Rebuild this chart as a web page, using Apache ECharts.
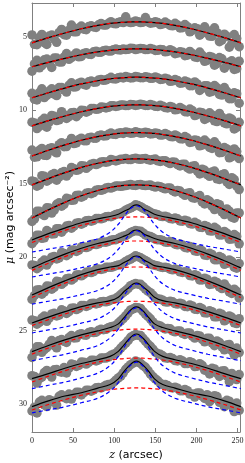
<!DOCTYPE html>
<html><head><meta charset="utf-8">
<script src="https://cdn.jsdelivr.net/npm/echarts@6/dist/echarts.min.js"></script>
<style>html,body{margin:0;padding:0;background:#fff}#c{width:245px;height:463px}</style>
</head><body><div id="c"></div>
<script>
// sample positions (arcsec)
const zPts = [0,6,12,18,24,30,36,42,48,54,60,66,72,78,84,90,96,102,108,114,120,126,132,138,144,150,156,162,168,174,180,186,192,198,204,210,216,222,228,234,240,246,252];
const zPtsB = [3,9,15,21,27,33,39,45,51,57,63,69,75,81,87,93,99,105,111,117,123,129,135,141,147,153,159,165,171,177,183,189,195,201,207,213,219,225,231,237,243,249];
const zLine = [0,20,40,60,80,95,105,112,118,123,127,131,136,142,149,159,174,194,214,234,254];
const xTicks = [0,50,100,150,200,250];
const yTicks = [5,10,15,20,25,30];

// measured points (mag arcsec^-2, offset profiles), set A at zPts
const pts1 = [4.87,5.54,4.84,5.52,4.88,5.38,4.50,4.89,4.20,4.66,4.27,4.52,4.25,4.36,4.09,4.20,3.97,4.12,3.97,3.64,4.03,3.92,4.03,3.69,4.07,3.97,4.17,4.00,4.23,4.08,4.40,4.17,4.66,4.39,4.89,4.32,4.95,4.39,5.33,4.82,5.71,4.85,5.67];
const pts2 = [7.34,6.60,6.96,6.52,7.09,6.45,6.72,6.14,6.42,6.10,6.34,6.08,6.20,5.98,6.05,5.91,5.97,5.83,5.90,5.87,5.78,5.87,5.79,5.87,5.80,5.93,5.86,6.02,5.88,6.15,6.02,6.29,6.00,6.37,6.04,6.67,6.34,6.93,6.41,7.14,6.73,7.22,6.66];
const pts3 = [8.85,9.30,8.54,8.99,8.54,9.00,8.46,8.76,8.13,8.40,8.09,8.29,8.01,8.08,7.90,7.94,7.76,7.87,7.76,7.71,7.80,7.70,7.78,7.72,7.83,7.73,7.90,7.83,8.03,7.91,8.16,8.01,8.33,8.07,8.65,8.34,8.77,8.32,8.92,8.46,9.21,8.81,9.52];
const pts4 = [10.81,11.25,10.70,11.15,10.35,10.70,10.10,10.56,10.17,10.44,10.00,10.13,9.88,9.94,9.78,9.84,9.70,9.74,9.64,9.68,9.61,9.67,9.59,9.67,9.61,9.73,9.66,9.82,9.74,9.97,9.81,10.10,9.92,10.36,10.14,10.63,10.17,10.72,10.22,10.86,10.52,11.27,10.82];
const pts5 = [12.71,13.17,12.60,13.08,12.56,12.90,12.21,12.47,11.92,12.23,11.90,12.08,11.84,11.90,11.68,11.74,11.55,11.65,11.53,11.48,11.56,11.47,11.56,11.49,11.61,11.54,11.69,11.58,11.78,11.68,11.94,11.79,12.19,12.02,12.42,12.03,12.53,12.15,12.89,12.54,13.24,12.63,13.29];
const pts6 = [14.81,15.17,14.45,14.83,14.39,14.76,14.24,14.48,13.89,14.09,13.78,13.95,13.67,13.70,13.52,13.54,13.35,13.45,13.33,13.28,13.36,13.26,13.34,13.29,13.40,13.32,13.48,13.43,13.63,13.54,13.79,13.68,14.00,13.78,14.34,14.09,14.50,14.14,14.71,14.33,15.05,14.72,15.40];
const pts7 = [17.57,16.88,17.07,16.64,17.00,16.40,16.53,15.99,16.13,15.80,15.92,15.65,15.68,15.44,15.45,15.30,15.30,15.15,15.18,15.13,15.06,15.12,15.06,15.13,15.09,15.23,15.20,15.35,15.29,15.56,15.50,15.79,15.62,15.99,15.81,16.38,16.20,16.76,16.43,17.10,16.87,17.35,16.99];
const pts8 = [19.08,18.50,18.72,18.19,18.42,18.06,18.30,17.88,18.03,17.69,17.76,17.52,17.55,17.37,17.39,17.25,17.25,17.09,17.01,16.80,16.65,16.44,16.56,16.75,16.95,17.07,17.21,17.22,17.37,17.34,17.53,17.49,17.71,17.63,17.96,17.85,18.21,17.97,18.49,18.25,18.78,18.46,19.09];
const pts9 = [20.53,20.78,20.34,20.54,20.00,20.12,19.68,19.90,19.53,19.61,19.31,19.35,19.14,19.14,18.98,18.98,18.84,18.81,18.64,18.54,18.32,18.19,18.23,18.49,18.59,18.78,18.81,18.97,18.94,19.12,19.11,19.34,19.28,19.57,19.47,19.86,19.74,20.17,19.96,20.49,20.19,20.68,20.43];
const pts10 = [22.88,22.23,22.52,21.97,22.18,21.64,21.85,21.47,21.56,21.22,21.27,21.03,21.05,20.83,20.84,20.69,20.69,20.58,20.51,20.29,20.13,19.91,20.04,20.23,20.44,20.56,20.67,20.68,20.82,20.80,21.00,20.99,21.25,21.19,21.55,21.43,21.86,21.64,22.03,21.82,22.37,22.18,22.78];
const pts11 = [24.28,24.56,24.14,24.37,23.86,24.00,23.58,23.83,23.47,23.57,23.29,23.35,23.15,23.18,23.03,23.04,22.91,22.82,22.54,22.27,21.94,21.80,21.85,22.17,22.42,22.77,22.86,23.04,23.00,23.16,23.13,23.35,23.26,23.54,23.42,23.79,23.65,24.06,23.82,24.33,24.00,24.47,24.19];
const pts12 = [26.83,26.10,26.48,26.15,25.68,26.17,25.61,25.80,25.34,25.49,25.21,25.31,25.08,25.11,24.91,24.91,24.73,24.65,24.33,24.00,23.59,23.43,23.49,23.87,24.20,24.60,24.68,24.89,24.88,25.08,25.02,25.26,25.16,25.51,25.36,25.76,25.52,26.03,25.80,26.31,25.94,26.66,26.49];
const pts13 = [28.07,28.57,28.17,27.71,28.16,27.65,27.83,27.88,27.28,27.44,27.14,27.28,27.02,27.06,26.87,26.87,26.68,26.54,26.19,25.86,25.45,25.27,25.34,25.72,26.07,26.47,26.61,26.85,26.83,27.04,26.98,27.24,27.11,27.45,27.25,27.69,27.95,27.61,28.12,27.73,28.48,28.23,27.99];
const pts14 = [30.47,30.60,29.74,30.17,29.81,30.07,29.37,29.63,29.66,29.20,29.38,29.05,29.12,28.89,28.90,28.71,28.67,28.37,28.09,27.63,27.32,27.07,27.23,27.50,27.95,28.29,28.59,28.67,28.87,28.85,29.09,29.00,29.32,29.52,29.24,29.62,29.84,29.43,29.88,30.18,29.80,30.51,30.43];

// measured points, set B at zPtsB
const ptsB1 = [5.51,5.05,5.40,4.95,5.15,4.70,4.86,4.55,4.66,4.40,4.48,4.30,4.33,4.18,4.20,4.09,4.09,4.02,4.03,3.98,4.01,3.97,4.01,3.98,4.05,4.03,4.13,4.11,4.25,4.20,4.38,4.31,4.57,4.45,4.76,4.58,4.97,4.72,5.22,4.97,5.47,5.12];
const ptsB2 = [6.85,7.11,6.57,6.83,6.45,6.71,6.38,6.53,6.26,6.36,6.13,6.18,6.02,6.06,5.95,5.96,5.88,5.89,5.83,5.85,5.80,5.83,5.81,5.86,5.84,5.92,5.89,6.00,5.96,6.11,6.05,6.25,6.14,6.41,6.26,6.61,6.39,6.82,6.50,6.94,6.63,7.17];
const ptsB3 = [9.25,8.80,9.14,8.69,8.90,8.46,8.61,8.30,8.42,8.16,8.24,8.06,8.09,7.94,7.96,7.85,7.86,7.79,7.80,7.75,7.78,7.74,7.78,7.75,7.82,7.80,7.89,7.87,8.01,7.97,8.14,8.07,8.33,8.21,8.52,8.33,8.72,8.47,8.97,8.71,9.21,8.87];
const ptsB4 = [10.86,11.10,10.55,10.80,10.40,10.65,10.31,10.44,10.15,10.25,10.01,10.05,9.88,9.91,9.79,9.80,9.70,9.71,9.64,9.67,9.62,9.64,9.62,9.67,9.66,9.74,9.72,9.84,9.80,9.95,9.91,10.12,10.02,10.30,10.17,10.53,10.32,10.77,10.47,10.92,10.62,11.17];
const ptsB5 = [13.20,12.73,13.07,12.61,12.80,12.34,12.48,12.17,12.27,11.99,12.07,11.88,11.90,11.74,11.75,11.64,11.64,11.57,11.58,11.52,11.55,11.51,11.55,11.53,11.60,11.58,11.68,11.66,11.81,11.77,11.95,11.89,12.16,12.06,12.37,12.20,12.60,12.37,12.87,12.63,13.15,12.81];
const ptsB6 = [14.87,15.08,14.50,14.73,14.31,14.54,14.17,14.28,13.98,14.05,13.79,13.82,13.63,13.64,13.51,13.50,13.40,13.40,13.33,13.35,13.30,13.32,13.30,13.36,13.35,13.44,13.43,13.55,13.53,13.70,13.67,13.90,13.81,14.12,14.01,14.38,14.20,14.67,14.39,14.87,14.59,15.17];
const ptsB7 = [17.40,16.88,17.17,16.66,16.80,16.30,16.40,16.04,16.11,15.79,15.83,15.61,15.60,15.41,15.40,15.26,15.24,15.15,15.15,15.08,15.11,15.07,15.11,15.10,15.18,15.18,15.29,15.29,15.47,15.46,15.67,15.65,15.95,15.88,16.24,16.10,16.55,16.36,16.91,16.72,17.28,16.99];
const ptsB8 = [18.87,18.50,18.68,18.31,18.41,18.06,18.11,17.85,17.89,17.65,17.66,17.50,17.50,17.36,17.34,17.23,17.18,17.05,16.92,16.72,16.56,16.49,16.67,16.84,17.03,17.12,17.24,17.27,17.40,17.39,17.55,17.53,17.75,17.72,17.98,17.91,18.22,18.09,18.49,18.37,18.77,18.59];
const ptsB9 = [20.56,20.65,20.20,20.29,19.95,20.05,19.75,19.77,19.51,19.52,19.30,19.29,19.11,19.09,18.97,18.93,18.82,18.73,18.58,18.44,18.25,18.22,18.35,18.56,18.68,18.82,18.87,18.99,18.99,19.16,19.18,19.37,19.35,19.60,19.57,19.88,19.81,20.18,20.04,20.42,20.29,20.75];
const ptsB10 = [22.61,22.21,22.37,21.98,22.05,21.67,21.71,21.43,21.44,21.19,21.18,21.00,20.98,20.81,20.79,20.68,20.65,20.54,20.41,20.20,20.03,19.97,20.15,20.33,20.52,20.60,20.70,20.72,20.86,20.86,21.04,21.04,21.28,21.27,21.55,21.50,21.83,21.72,22.14,22.05,22.47,22.32];
const ptsB11 = [24.32,24.44,24.01,24.14,23.82,23.94,23.66,23.71,23.46,23.49,23.29,23.29,23.14,23.14,23.02,23.00,22.86,22.69,22.40,22.12,21.86,21.84,22.00,22.31,22.59,22.84,22.93,23.06,23.04,23.19,23.19,23.37,23.32,23.56,23.51,23.80,23.71,24.06,23.89,24.24,24.09,24.52];
const ptsB12 = [26.47,26.10,26.29,25.92,26.02,25.67,25.73,25.47,25.50,25.27,25.29,25.13,25.13,24.98,24.94,24.80,24.71,24.48,24.18,23.79,23.52,23.45,23.69,24.03,24.41,24.63,24.80,24.86,25.02,25.02,25.18,25.16,25.38,25.34,25.59,25.52,25.83,25.70,26.10,25.98,26.37,26.19];
const ptsB13 = [28.12,28.26,27.85,27.98,27.67,27.79,27.51,27.56,27.33,27.36,27.16,27.16,27.01,27.00,26.86,26.80,26.61,26.38,26.02,25.67,25.35,25.32,25.52,25.91,26.26,26.57,26.71,26.88,26.90,27.06,27.06,27.24,27.19,27.42,27.37,27.65,27.56,27.91,27.74,28.08,27.91,28.33];
const ptsB14 = [30.21,29.86,30.05,29.70,29.81,29.47,29.55,29.32,29.39,29.20,29.22,29.05,29.03,28.87,28.82,28.67,28.53,28.22,27.87,27.47,27.21,27.14,27.38,27.71,28.13,28.42,28.66,28.74,28.90,28.92,29.10,29.09,29.31,29.24,29.46,29.36,29.64,29.49,29.87,29.74,30.13,29.93];

// total fit (black)
const tot1 = [5.41,5.06,4.74,4.45,4.22,4.09,4.04,4.01,3.99,3.98,3.98,3.98,3.99,4.01,4.04,4.09,4.22,4.45,4.74,5.06,5.41];
const tot2 = [7.04,6.74,6.47,6.22,6.03,5.92,5.87,5.84,5.83,5.82,5.82,5.82,5.83,5.84,5.87,5.92,6.03,6.22,6.47,6.74,7.04];
const tot3 = [9.15,8.81,8.49,8.21,7.99,7.86,7.81,7.78,7.76,7.75,7.75,7.75,7.76,7.78,7.81,7.86,7.99,8.21,8.49,8.81,9.15];
const tot4 = [11.06,10.71,10.39,10.10,9.87,9.74,9.69,9.66,9.64,9.63,9.63,9.63,9.64,9.66,9.69,9.74,9.87,10.10,10.39,10.71,11.06];
const tot5 = [13.11,12.72,12.36,12.04,11.79,11.65,11.58,11.55,11.53,11.52,11.52,11.52,11.53,11.55,11.58,11.65,11.79,12.04,12.36,12.72,13.11];
const tot6 = [15.08,14.65,14.25,13.89,13.61,13.45,13.38,13.34,13.32,13.31,13.31,13.31,13.32,13.34,13.38,13.45,13.61,13.89,14.25,14.65,15.08];
const tot7 = [17.33,16.78,16.27,15.82,15.46,15.26,15.17,15.12,15.10,15.08,15.08,15.08,15.10,15.12,15.17,15.26,15.46,15.82,16.27,16.78,17.33];
const tot8 = [18.83,18.40,18.02,17.66,17.39,17.23,17.08,16.87,16.72,16.50,16.44,16.50,16.72,16.87,17.08,17.23,17.39,17.66,18.02,18.40,18.83];
const tot9 = [20.73,20.24,19.79,19.39,19.07,18.89,18.73,18.57,18.42,18.21,18.15,18.21,18.42,18.57,18.73,18.89,19.07,19.39,19.79,20.24,20.73];
const tot10 = [22.58,22.07,21.61,21.19,20.85,20.67,20.58,20.36,20.20,19.97,19.92,19.97,20.20,20.36,20.58,20.67,20.85,21.19,21.61,22.07,22.58];
const tot11 = [24.48,24.08,23.71,23.37,23.11,22.96,22.72,22.34,22.06,21.82,21.76,21.82,22.06,22.34,22.72,22.96,23.11,23.37,23.71,24.08,24.48];
const tot12 = [26.43,26.01,25.63,25.29,25.02,24.79,24.54,24.11,23.71,23.46,23.39,23.46,23.71,24.11,24.54,24.79,25.02,25.29,25.63,26.01,26.43];
const tot13 = [28.27,27.93,27.56,27.24,26.98,26.75,26.41,25.97,25.57,25.31,25.23,25.31,25.57,25.97,26.41,26.75,26.98,27.24,27.56,27.93,28.27];
const tot14 = [30.17,29.78,29.45,29.23,28.91,28.67,28.28,27.77,27.40,27.16,27.07,27.16,27.40,27.77,28.28,28.67,28.91,29.23,29.45,29.78,30.17];

// broad component (red dashed); profiles 1-7 are single-component fits, so it equals the total
const thick8 = [19.00,18.57,18.18,17.83,17.56,17.40,17.33,17.29,17.27,17.26,17.26,17.26,17.27,17.29,17.33,17.40,17.56,17.83,18.18,18.57,19.00];
const thick9 = [20.90,20.41,19.96,19.56,19.24,19.06,18.98,18.94,18.91,18.90,18.90,18.90,18.91,18.94,18.98,19.06,19.24,19.56,19.96,20.41,20.90];
const thick10 = [22.75,22.24,21.77,21.36,21.02,20.84,20.75,20.71,20.68,20.67,20.67,20.67,20.68,20.71,20.75,20.84,21.02,21.36,21.77,22.24,22.75];
const thick11 = [24.65,24.25,23.87,23.54,23.28,23.13,23.07,23.03,23.01,23.00,23.00,23.00,23.01,23.03,23.07,23.13,23.28,23.54,23.87,24.25,24.65];
const thick12 = [26.60,26.18,25.80,25.46,25.19,25.04,24.97,24.93,24.91,24.90,24.90,24.90,24.91,24.93,24.97,25.04,25.19,25.46,25.80,26.18,26.60];
const thick13 = [28.50,28.10,27.73,27.41,27.15,27.00,26.94,26.90,26.88,26.87,26.87,26.87,26.88,26.90,26.94,27.00,27.15,27.41,27.73,28.10,28.50];
const thick14 = [30.40,30.03,29.70,29.40,29.16,29.02,28.96,28.93,28.91,28.90,28.90,28.90,28.91,28.93,28.96,29.02,29.16,29.40,29.70,30.03,30.40];

// thin component (blue dashed)
const thin8 = [19.65,19.45,19.26,19.02,18.74,18.30,17.76,17.22,16.79,16.57,16.50,16.57,16.79,17.22,17.76,18.30,18.74,19.02,19.26,19.45,19.65];
const thin9 = [21.35,21.15,20.96,20.72,20.44,20.00,19.46,18.92,18.49,18.27,18.20,18.27,18.49,18.92,19.46,20.00,20.44,20.72,20.96,21.15,21.35];
const thin10 = [23.20,23.00,22.80,22.55,22.26,21.81,21.26,20.71,20.27,20.04,19.97,20.04,20.27,20.71,21.26,21.81,22.26,22.55,22.80,23.00,23.20];
const thin11 = [25.16,24.95,24.75,24.49,24.19,23.72,23.16,22.59,22.13,21.89,21.82,21.89,22.13,22.59,23.16,23.72,24.19,24.49,24.75,24.95,25.16];
const thin12 = [27.05,26.83,26.61,26.33,26.01,25.50,24.89,24.28,23.78,23.53,23.45,23.53,23.78,24.28,24.89,25.50,26.01,26.33,26.61,26.83,27.05];
const thin13 = [28.95,28.72,28.50,28.22,27.89,27.38,26.76,26.14,25.64,25.38,25.30,25.38,25.64,26.14,26.76,27.38,27.89,28.22,28.50,28.72,28.95];
const thin14 = [30.60,30.39,30.18,29.91,29.60,29.12,28.53,27.94,27.47,27.23,27.15,27.23,27.47,27.94,28.53,29.12,29.60,29.91,30.18,30.39,30.60];

const ptsAll = [pts1,pts2,pts3,pts4,pts5,pts6,pts7,pts8,pts9,pts10,pts11,pts12,pts13,pts14];
const ptsBAll = [ptsB1,ptsB2,ptsB3,ptsB4,ptsB5,ptsB6,ptsB7,ptsB8,ptsB9,ptsB10,ptsB11,ptsB12,ptsB13,ptsB14];
const totAll = [tot1,tot2,tot3,tot4,tot5,tot6,tot7,tot8,tot9,tot10,tot11,tot12,tot13,tot14];
const thickAll = [tot1,tot2,tot3,tot4,tot5,tot6,tot7,thick8,thick9,thick10,thick11,thick12,thick13,thick14];
const thinAll = [thin8,thin9,thin10,thin11,thin12,thin13,thin14];

const AX = '#808080';
const series = [];
const scat = (zs, p) => ({type:'scatter', data: zs.map((z,i)=>[z,p[i]]), symbol:'circle', symbolSize:9.5, itemStyle:{color:'#808080', opacity:1}, z:1, silent:true});
ptsAll.forEach(p => series.push(scat(zPts, p)));
ptsBAll.forEach(p => series.push(scat(zPtsB, p)));
const lineOf = (arr, color, dashed, zz) => ({type:'line', data: zLine.map((z,i)=>[z,arr[i]]), showSymbol:false, smooth:0.35, lineStyle:{color, width:1.2, type: dashed ? [4,3] : 'solid'}, z:zz, silent:true});
totAll.forEach(a => series.push(lineOf(a,'#000000',false,3)));
thickAll.forEach(a => series.push(lineOf(a,'#ff0000',true,4)));
thinAll.forEach(a => series.push(lineOf(a,'#0000ff',true,4)));

const tickLbl = {fontFamily:'Liberation Serif', fontSize:8, color:'#222'};
const chart = echarts.init(document.getElementById('c'), null, {renderer:'canvas'});
chart.setOption({
  animation:false,
  backgroundColor:'#fff',
  grid:{left:32, top:3, right:5, bottom:31, containLabel:false, outerBoundsMode:'none'},
  xAxis:[
    {type:'value', position:'bottom', min:0, max:253, axisLine:{show:true, onZero:false, lineStyle:{color:AX, width:1}},
     axisTick:{show:true, inside:true, length:4, lineStyle:{color:AX}, customValues:xTicks},
     axisLabel:Object.assign({show:true, margin:5, customValues:xTicks}, tickLbl), splitLine:{show:false},
     name:'{i|z} (arcsec)', nameLocation:'middle', nameGap:13,
     nameTextStyle:{fontFamily:'DejaVu Sans', fontSize:11, color:'#000', rich:{i:{fontFamily:'DejaVu Serif', fontStyle:'italic', fontSize:11, color:'#000'}}}},
    {type:'value', position:'top', min:0, max:253, axisLine:{show:true, onZero:false, lineStyle:{color:AX, width:1}},
     axisTick:{show:true, inside:true, length:4, lineStyle:{color:AX}, customValues:xTicks}, axisLabel:{show:false}, splitLine:{show:false}}
  ],
  yAxis:[
    {type:'value', position:'left', inverse:true, min:2.7, max:31.9, axisLine:{show:true, onZero:false, lineStyle:{color:AX, width:1}},
     axisTick:{show:true, inside:true, length:4, lineStyle:{color:AX}, customValues:yTicks},
     axisLabel:Object.assign({show:true, margin:5, customValues:yTicks}, tickLbl), splitLine:{show:false},
     name:'{i|μ} (mag arcsec⁻²)', nameLocation:'middle', nameGap:16, nameRotate:90, nameMoveOverlap:false,
     nameTextStyle:{fontFamily:'DejaVu Sans', fontSize:11, color:'#000', rich:{i:{fontFamily:'DejaVu Serif', fontStyle:'italic', fontSize:11, color:'#000'}}}},
    {type:'value', position:'right', inverse:true, min:2.7, max:31.9, axisLine:{show:true, onZero:false, lineStyle:{color:AX, width:1}},
     axisTick:{show:true, inside:true, length:4, lineStyle:{color:AX}, customValues:yTicks}, axisLabel:{show:false}, splitLine:{show:false}}
  ],
  series: series
});
</script></body></html>
